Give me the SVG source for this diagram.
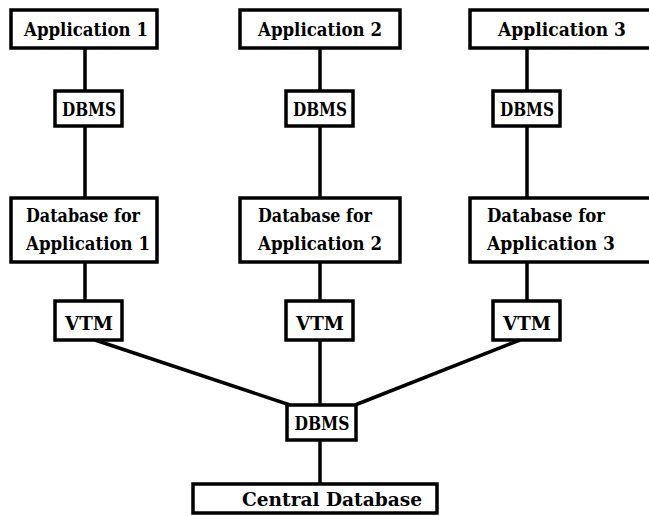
<svg xmlns="http://www.w3.org/2000/svg" width="649" height="516" viewBox="0 0 649 516">
<style>
.box{fill:#fff;stroke:#000;stroke-width:3.5}
.c line{stroke:#000;stroke-width:3.5}
.t{font-family:'DejaVu Serif',serif;font-weight:bold;font-size:19px;text-anchor:middle;fill:#000}
.l{font-family:'DejaVu Serif',serif;font-weight:bold;font-size:19px;text-anchor:start;fill:#000}
</style>
<rect width="649" height="516" fill="#fff"/>
<g class="c" id="connectors">
<line x1="85" y1="48" x2="85" y2="91"/>
<line x1="320" y1="48" x2="320" y2="91"/>
<line x1="527" y1="48" x2="527" y2="91"/>
<line x1="85" y1="126" x2="85" y2="198"/>
<line x1="320" y1="126" x2="320" y2="198"/>
<line x1="527" y1="126" x2="527" y2="198"/>
<line x1="85" y1="262" x2="85" y2="301"/>
<line x1="320" y1="262" x2="320" y2="301"/>
<line x1="527" y1="262" x2="527" y2="301"/>
<line x1="95" y1="340" x2="290" y2="405"/>
<line x1="320" y1="340" x2="320" y2="405"/>
<line x1="520" y1="340" x2="355" y2="405"/>
<line x1="320" y1="440" x2="320" y2="484"/>
</g>
<g id="app1"><rect class="box" x="11" y="10" width="146" height="38"/><text class="t" x="86" y="36" textLength="124" lengthAdjust="spacingAndGlyphs">Application 1</text></g>
<g id="app2"><rect class="box" x="240" y="10" width="160" height="38"/><text class="t" x="320" y="36" textLength="124" lengthAdjust="spacingAndGlyphs">Application 2</text></g>
<g id="app3"><rect class="box" x="470" y="10" width="185" height="38"/><text class="t" x="562" y="36" textLength="128" lengthAdjust="spacingAndGlyphs">Application 3</text></g>
<g id="dbms1"><rect class="box" x="55" y="91" width="67" height="35"/><text class="t" x="89" y="116" textLength="54" lengthAdjust="spacingAndGlyphs">DBMS</text></g>
<g id="dbms2"><rect class="box" x="286" y="91" width="67" height="35"/><text class="t" x="320" y="116" textLength="54" lengthAdjust="spacingAndGlyphs">DBMS</text></g>
<g id="dbms3"><rect class="box" x="493" y="91" width="67" height="35"/><text class="t" x="527" y="116" textLength="54" lengthAdjust="spacingAndGlyphs">DBMS</text></g>
<g id="db1"><rect class="box" x="11" y="198" width="146" height="64"/><text class="l" x="26" y="222" textLength="114" lengthAdjust="spacingAndGlyphs">Database for</text><text class="l" x="26" y="250" textLength="124" lengthAdjust="spacingAndGlyphs">Application 1</text></g>
<g id="db2"><rect class="box" x="240" y="198" width="160" height="64"/><text class="l" x="258" y="222" textLength="114" lengthAdjust="spacingAndGlyphs">Database for</text><text class="l" x="258" y="250" textLength="124" lengthAdjust="spacingAndGlyphs">Application 2</text></g>
<g id="db3"><rect class="box" x="470" y="198" width="185" height="64"/><text class="l" x="487" y="222" textLength="118" lengthAdjust="spacingAndGlyphs">Database for</text><text class="l" x="487" y="250" textLength="128" lengthAdjust="spacingAndGlyphs">Application 3</text></g>
<g id="vtm1"><rect class="box" x="55" y="301" width="67" height="39"/><text class="t" x="89" y="330" textLength="48" lengthAdjust="spacingAndGlyphs">VTM</text></g>
<g id="vtm2"><rect class="box" x="286" y="301" width="67" height="39"/><text class="t" x="320" y="330" textLength="48" lengthAdjust="spacingAndGlyphs">VTM</text></g>
<g id="vtm3"><rect class="box" x="493" y="301" width="67" height="39"/><text class="t" x="527" y="330" textLength="48" lengthAdjust="spacingAndGlyphs">VTM</text></g>
<g id="dbms0"><rect class="box" x="287" y="405" width="69" height="35"/><text class="t" x="322" y="430" textLength="55" lengthAdjust="spacingAndGlyphs">DBMS</text></g>
<g id="central"><rect class="box" x="193" y="484" width="244" height="29"/><text class="l" x="242" y="506" textLength="180" lengthAdjust="spacingAndGlyphs">Central Database</text></g>
</svg>
